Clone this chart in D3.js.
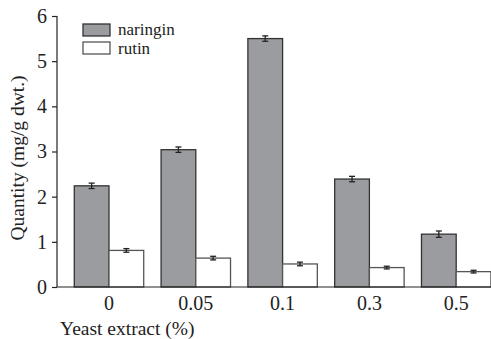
<!DOCTYPE html>
<html><head><meta charset="utf-8">
<script src="https://cdn.jsdelivr.net/npm/d3@7"></script>
<style>body{margin:0;background:#fff}svg{display:block}</style>
</head><body><svg id="c" width="491" height="339"></svg>
<script>
const categories = ["0","0.05","0.1","0.3","0.5"];
const naringin = [2.24, 3.04, 5.5, 2.39, 1.17];
const naringinErr = [0.06, 0.06, 0.06, 0.06, 0.07];
const rutin = [0.81, 0.64, 0.51, 0.43, 0.34];
const rutinErr = [0.04, 0.04, 0.04, 0.03, 0.03];
const yTicks = [0,1,2,3,4,5,6];
const seriesNames = ["naringin","rutin"];

const FONT = "'Liberation Serif', 'Times New Roman', serif";
const svg = d3.select("#c");
const y = d3.scaleLinear().domain([0,6]).range([287,16]);
const x = d3.scaleBand().domain(categories).range([65.6,499.6]).paddingInner(0.2).paddingOuter(0.1);
const xs = d3.scaleBand().domain(seriesNames).range([0,x.bandwidth()]);
const fills = {naringin:"#9b9ca0", rutin:"#ffffff"};
const strokes = {naringin:"#333", rutin:"#555"};

const data = [];
categories.forEach((c,i)=>{
  data.push({c, s:"naringin", v:naringin[i], e:naringinErr[i]});
  data.push({c, s:"rutin", v:rutin[i], e:rutinErr[i]});
});

svg.selectAll("rect.bar").data(data).enter().append("rect")
  .attr("x", d=>x(d.c)+xs(d.s)).attr("width", xs.bandwidth())
  .attr("y", d=>y(d.v)).attr("height", d=>y(0)-y(d.v))
  .attr("fill", d=>fills[d.s]).attr("stroke", d=>strokes[d.s]).attr("stroke-width",1.3);

const cx = d=>x(d.c)+xs(d.s)+xs.bandwidth()/2;
const eg = svg.selectAll("g.err").data(data).enter().append("g").attr("stroke","#222").attr("stroke-width",1.3);
eg.append("line").attr("x1",cx).attr("x2",cx).attr("y1",d=>y(d.v+d.e)).attr("y2",d=>y(d.v-d.e));
eg.append("line").attr("x1",d=>cx(d)-3).attr("x2",d=>cx(d)+3).attr("y1",d=>y(d.v+d.e)).attr("y2",d=>y(d.v+d.e));
eg.append("line").attr("x1",d=>cx(d)-3).attr("x2",d=>cx(d)+3).attr("y1",d=>y(d.v-d.e)).attr("y2",d=>y(d.v-d.e));

// y axis
const ya = svg.append("g").attr("transform","translate(57,0)")
  .call(d3.axisLeft(y).tickValues(yTicks).tickSize(5).tickPadding(5).tickFormat(d3.format("d")));
ya.select(".domain").attr("stroke","#222").attr("stroke-width",1.2).attr("d","M0,16V287");
ya.selectAll(".tick line").attr("stroke","#222").attr("stroke-width",1.2);
ya.selectAll("text").attr("font-size",20).attr("font-family",FONT).attr("fill","#222");

// x axis
const xa = svg.append("g").attr("transform","translate(0,287)")
  .call(d3.axisBottom(x).tickSize(0).tickPadding(9));
xa.select(".domain").attr("stroke","#222").attr("stroke-width",1.2).attr("d","M57,0H491");
xa.selectAll("text").attr("font-size",20).attr("font-family",FONT).attr("fill","#222");

svg.append("text").attr("x",60).attr("y",335).attr("font-size",19.5).attr("font-family",FONT).attr("fill","#222").text("Yeast extract (%)");
svg.append("text").attr("transform","translate(24,158) rotate(-90)").attr("text-anchor","middle").attr("font-size",19.5).attr("font-family",FONT).attr("fill","#222").text("Quantity (mg/g dwt.)");

// legend
const lg = svg.append("g");
seriesNames.forEach((s,i)=>{
  lg.append("rect").attr("x",83).attr("y",24+i*18).attr("width",27).attr("height",12)
    .attr("fill",fills[s]).attr("stroke",strokes[s]).attr("stroke-width",1.3);
  lg.append("text").attr("x",118).attr("y",34.5+i*19).attr("font-size",17).attr("font-family",FONT).attr("fill","#222").text(s);
});
</script></body></html>
